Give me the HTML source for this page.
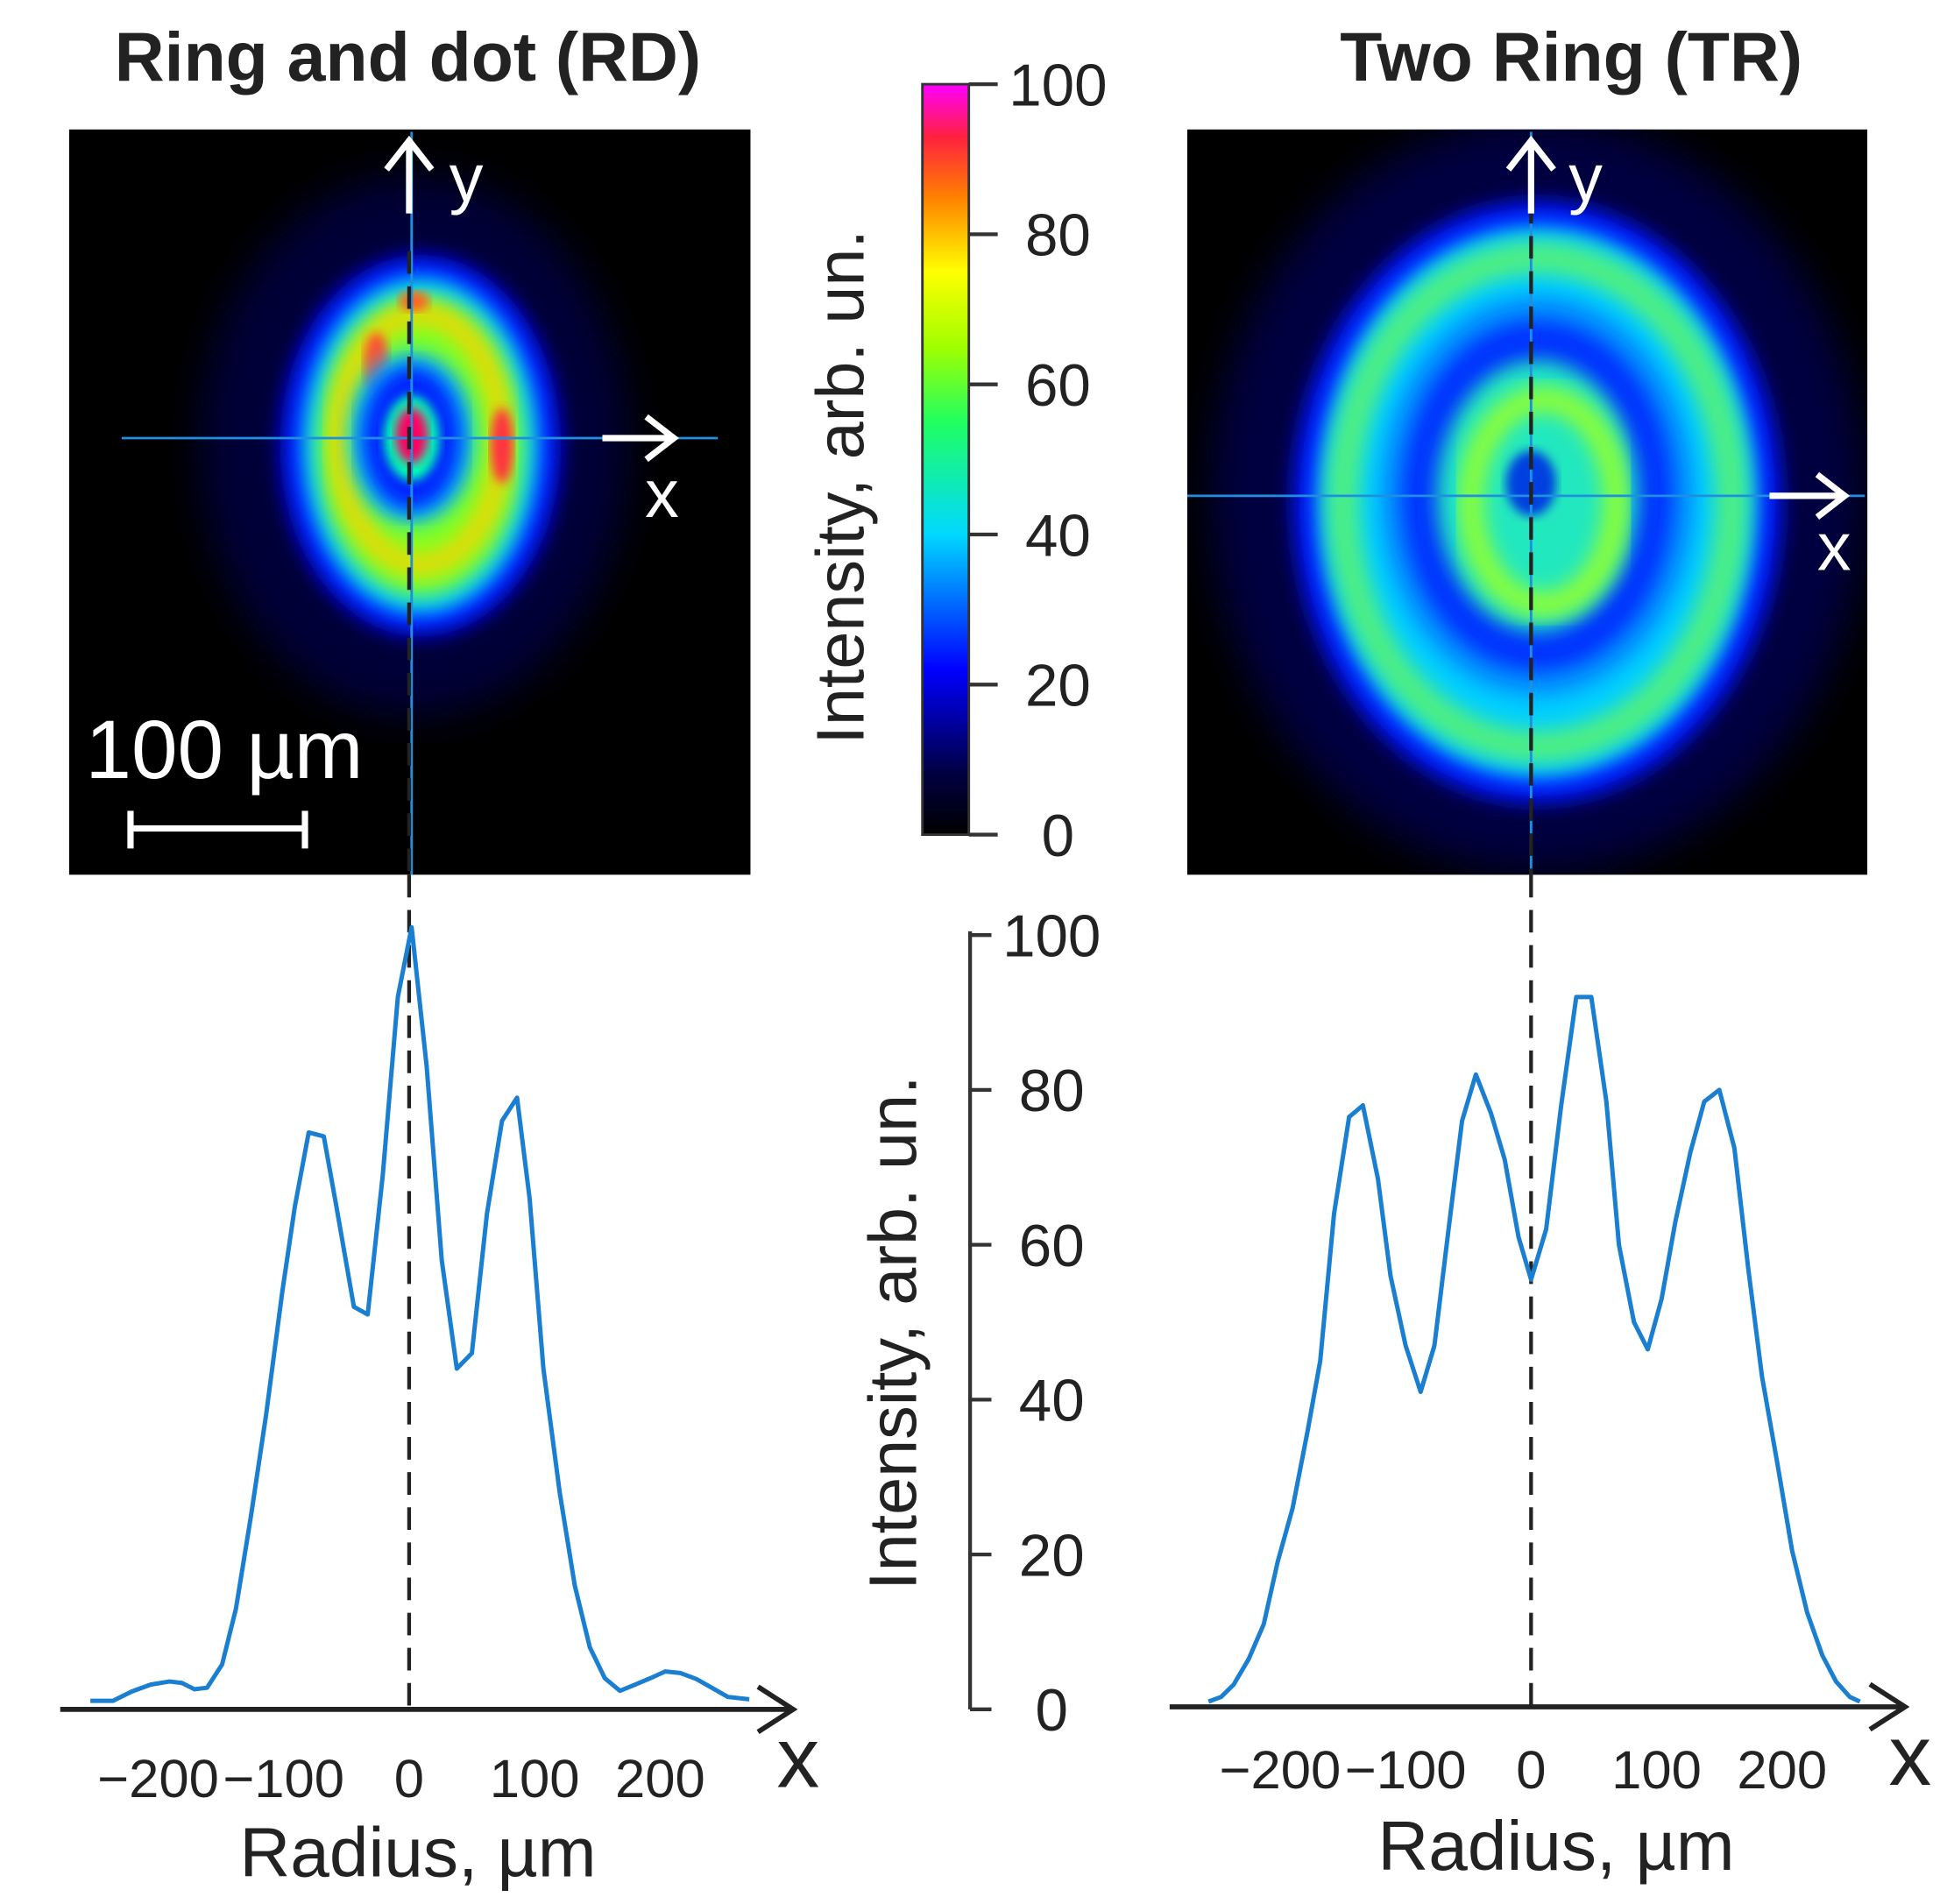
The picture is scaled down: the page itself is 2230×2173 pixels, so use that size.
<!DOCTYPE html>
<html><head><meta charset="utf-8">
<style>
html,body{margin:0;padding:0;background:#fff;}
svg{display:block;}
text{font-family:"Liberation Sans",Arial,sans-serif;}
</style></head>
<body>
<svg id="fig" width="2230" height="2173" viewBox="0 0 1557 1517" xmlns="http://www.w3.org/2000/svg">
<defs>
  <linearGradient id="cmap" x1="0" y1="1" x2="0" y2="0">
    <stop offset="0" stop-color="#000000"/>
    <stop offset="0.08" stop-color="#000040"/>
    <stop offset="0.22" stop-color="#0000ff"/>
    <stop offset="0.40" stop-color="#00d8ff"/>
    <stop offset="0.55" stop-color="#20ff60"/>
    <stop offset="0.65" stop-color="#a0ff00"/>
    <stop offset="0.75" stop-color="#ffff00"/>
    <stop offset="0.85" stop-color="#ff8000"/>
    <stop offset="0.93" stop-color="#ff2040"/>
    <stop offset="1" stop-color="#ff00ff"/>
  </linearGradient>
  <filter id="blur8"><feGaussianBlur stdDeviation="8"/></filter>
  <filter id="blur14"><feGaussianBlur stdDeviation="16"/></filter>
  <filter id="blur4"><feGaussianBlur stdDeviation="4"/></filter>
  <clipPath id="clipL"><rect x="55" y="103" width="543" height="594"/></clipPath>
  <clipPath id="clipR"><rect x="946" y="103" width="542" height="594"/></clipPath>
</defs>

<text x="325" y="64" font-size="55" font-weight="bold" text-anchor="middle" fill="#222">Ring and dot (RD)</text>
<text x="1252" y="64" font-size="55" font-weight="bold" text-anchor="middle" fill="#222">Two Ring (TR)</text>

<g clip-path="url(#clipL)">
  <rect x="55" y="103" width="543" height="594" fill="#000"/>
  <ellipse cx="330" cy="355" rx="170" ry="215" fill="#000038" filter="url(#blur14)"/>
  <ellipse cx="335" cy="355" rx="112" ry="152" fill="#0010ff" filter="url(#blur8)"/>
  <ellipse cx="335" cy="355" rx="95" ry="135" fill="#00d0ff" filter="url(#blur8)"/>
  <ellipse cx="335" cy="355" rx="82" ry="120" fill="#80ff20" filter="url(#blur8)"/>
  <ellipse cx="335" cy="350" rx="65" ry="100" fill="none" stroke="#ffd000" stroke-width="14" filter="url(#blur8)"/>
  <ellipse cx="300" cy="290" rx="10" ry="25" fill="#ff5030" filter="url(#blur4)"/>
  <ellipse cx="400" cy="355" rx="9" ry="30" fill="#ff3040" filter="url(#blur4)"/>
  <ellipse cx="330" cy="240" rx="12" ry="8" fill="#ff6020" filter="url(#blur4)"/>
  <ellipse cx="328" cy="349" rx="50" ry="68" fill="#00c8ff" filter="url(#blur8)"/>
  <ellipse cx="328" cy="349" rx="40" ry="58" fill="#0020ff" filter="url(#blur8)"/>
  <ellipse cx="328" cy="349" rx="22" ry="34" fill="#00ffb0" filter="url(#blur4)"/>
  <ellipse cx="328" cy="347" rx="13" ry="22" fill="#ff0060" filter="url(#blur4)"/>
</g>
<g clip-path="url(#clipR)">
  <rect x="946" y="103" width="542" height="594" fill="#000"/>
  <ellipse cx="1225" cy="395" rx="260" ry="300" fill="#000040" filter="url(#blur14)"/>
  <ellipse cx="1225" cy="400" rx="195" ry="240" fill="#0018ff" filter="url(#blur8)"/>
  <ellipse cx="1225" cy="400" rx="175" ry="220" fill="#00d0ff" filter="url(#blur8)"/>
  <ellipse cx="1225" cy="400" rx="155" ry="195" fill="none" stroke="#50f080" stroke-width="26" filter="url(#blur8)"/>
  <ellipse cx="1225" cy="395" rx="125" ry="160" fill="#0090ff" filter="url(#blur8)"/>
  <ellipse cx="1225" cy="395" rx="108" ry="140" fill="#0030ff" filter="url(#blur8)"/>
  <ellipse cx="1225" cy="395" rx="80" ry="108" fill="#20e8c0" filter="url(#blur8)"/>
  <ellipse cx="1230" cy="400" rx="58" ry="82" fill="none" stroke="#90ff30" stroke-width="20" filter="url(#blur8)"/>
  <ellipse cx="1220" cy="385" rx="20" ry="26" fill="#0040e0" filter="url(#blur4)"/>
</g>

<g>
  <line x1="97" y1="349" x2="572" y2="349" stroke="#1f8fe0" stroke-width="2"/>
  <line x1="328" y1="105" x2="328" y2="697" stroke="#1f8fe0" stroke-width="2"/>
  <line x1="326" y1="200" x2="326" y2="697" stroke="#222" stroke-width="3" stroke-dasharray="18,10"/>
  <path d="M326,170 V112 M308,135 L326,112 L344,135" stroke="#fff" stroke-width="5" fill="none"/>
  <text x="358" y="160" font-size="54" fill="#fff">y</text>
  <path d="M480,349 H535 M515,332 L537,349 L515,366" stroke="#fff" stroke-width="5" fill="none"/>
  <text x="514" y="412" font-size="54" fill="#fff">x</text>
</g>
<g>
  <line x1="946" y1="395" x2="1486" y2="395" stroke="#1f8fe0" stroke-width="2"/>
  <line x1="1220" y1="105" x2="1220" y2="697" stroke="#1f8fe0" stroke-width="2"/>
  <line x1="1220" y1="160" x2="1220" y2="697" stroke="#222" stroke-width="3" stroke-dasharray="18,10"/>
  <path d="M1220,170 V112 M1202,135 L1220,112 L1238,135" stroke="#fff" stroke-width="5" fill="none"/>
  <text x="1250" y="160" font-size="54" fill="#fff">y</text>
  <path d="M1410,395 H1468 M1448,378 L1470,395 L1448,412" stroke="#fff" stroke-width="5" fill="none"/>
  <text x="1448" y="454" font-size="54" fill="#fff">x</text>
</g>
<g>
  <text x="68" y="620" font-size="66" fill="#fff">100 µm</text>
  <path d="M104,660 H243 M104,646 V676 M243,646 V676" stroke="#fff" stroke-width="5" fill="none"/>
</g>

<g>
  <rect x="735" y="67" width="37" height="598" fill="url(#cmap)" stroke="#333" stroke-width="2"/>
  <g id="cbTicks"></g>
  <text transform="translate(688,388) rotate(-90)" font-size="54" text-anchor="middle" fill="#222">Intensity, arb. un.</text>
</g>

<g id="plots"></g>
<text transform="translate(730,1062) rotate(-90)" font-size="54" text-anchor="middle" fill="#222">Intensity, arb. un.</text>
<text x="333" y="1495" font-size="56" text-anchor="middle" fill="#222">Radius, µm</text>
<text x="1240" y="1490" font-size="56" text-anchor="middle" fill="#222">Radius, µm</text>
</svg>
<script>
const cbTickValues=[0,20,40,60,80,100];
const xTickValues=[-200,-100,0,100,200];
const yTickValues=[0,20,40,60,80,100];
const rdRadius=[-254,-236,-221,-206,-191,-181,-171,-161,-149,-138,-126,-114,-101,-91,-80,-68,-58,-44,-33,-21,-9,2,14,26,38,50,62,74,86,96,107,120,132,144,156,168,180,192,204,216,229,241,254,271];
const rdIntensity=[1.1,1.1,2.3,3.2,3.6,3.4,2.6,2.8,5.8,13,25,38,54,65,74.5,74,65,52,51,69,92,101,83,58,44,46,64,76,79,66,44,28,16,8,4,2.4,3.2,4,4.9,4.7,3.9,2.8,1.6,1.3];
const trRadius=[-257,-247,-237,-225,-213,-202,-190,-178,-168,-157,-145,-134,-122,-112,-100,-88,-77,-65,-55,-44,-32,-21,-10,0,12,24,36,48,60,70,82,93,104,115,127,138,150,162,173,184,196,208,220,232,243,254,262];
const trIntensity=[1,1.6,3.2,6.5,11,19,26,36,45,64,76.5,78,68.5,56,47,41,47,63,76,82,77,71,61,55.5,62,78,92,92,78.5,60,50,46.5,53,63,72,78.5,80,72.5,57,43,32,20.5,12.5,7,3.6,1.6,1];

const NS='http://www.w3.org/2000/svg';
function mk(tag,attrs,parent){const e=document.createElementNS(NS,tag);for(const k in attrs)e.setAttribute(k,attrs[k]);parent.appendChild(e);return e;}
const plots=document.getElementById('plots');
const cb=document.getElementById('cbTicks');
const cbY=v=>665-v/100*598;
cbTickValues.forEach(v=>{
  const y=cbY(v);
  const t=mk('line',{x1:772,y1:y,x2:795,y2:y,stroke:'#333','stroke-width':3},cb);
  
  
  const l=mk('text',{x:843,y:y+17,'font-size':47,'text-anchor':'middle',fill:'#222'},cb);
  l.textContent=v;
  
  
});
const yS=v=>1362-v*6.17;
const ya=mk('path',{d:'M773,742 V1362 M773,1362 H790',stroke:'#333','stroke-width':3,fill:'none'},plots);


yTickValues.forEach(v=>{
  const y=yS(v);
  const t=mk('line',{x1:773,y1:y,x2:790,y2:y,stroke:'#333','stroke-width':3},plots);
  
  
  const l=mk('text',{x:838,y:y+17,'font-size':47,'text-anchor':'middle',fill:'#222'},plots);
  l.textContent=v;
  
  
});
function panel(name,x0,ay,axStart,axEnd,rad,inten,labY){
  const xS=r=>x0+r;
  const ax=mk('path',{d:`M${axStart},${ay} H${axEnd} M${axEnd-28},${ay-18} L${axEnd},${ay} L${axEnd-28},${ay+18}`,stroke:'#222','stroke-width':4,fill:'none'},plots);
  
  
  const xl=mk('text',{x:axEnd+4,y:ay+62,'font-size':68,'text-anchor':'middle',fill:'#222'},plots);
  xl.textContent='x';
  
  
  xTickValues.forEach(v=>{
    const l=mk('text',{x:xS(v),y:labY,'font-size':43,'text-anchor':'middle',fill:'#222'},plots);
    l.textContent=v<0?'\u2212'+(-v):String(v);
    
    
  });
  const dl=mk('line',{x1:x0,y1:697,x2:x0,y2:ay,stroke:'#222','stroke-width':3,'stroke-dasharray':'18,10'},plots);
  
  
  let d='';
  rad.forEach((r,i)=>{d+=(i?'L':'M')+xS(r).toFixed(1)+','+yS(inten[i]).toFixed(1);});
  const p=mk('path',{d:d,stroke:'#1a7fd0','stroke-width':3.5,fill:'none','stroke-linejoin':'round'},plots);
  
  
}
panel('rd',326,1362,48,632,rdRadius,rdIntensity,1432);
panel('tr',1220,1360,932,1518,trRadius,trIntensity,1425);
</script>
</body></html>
